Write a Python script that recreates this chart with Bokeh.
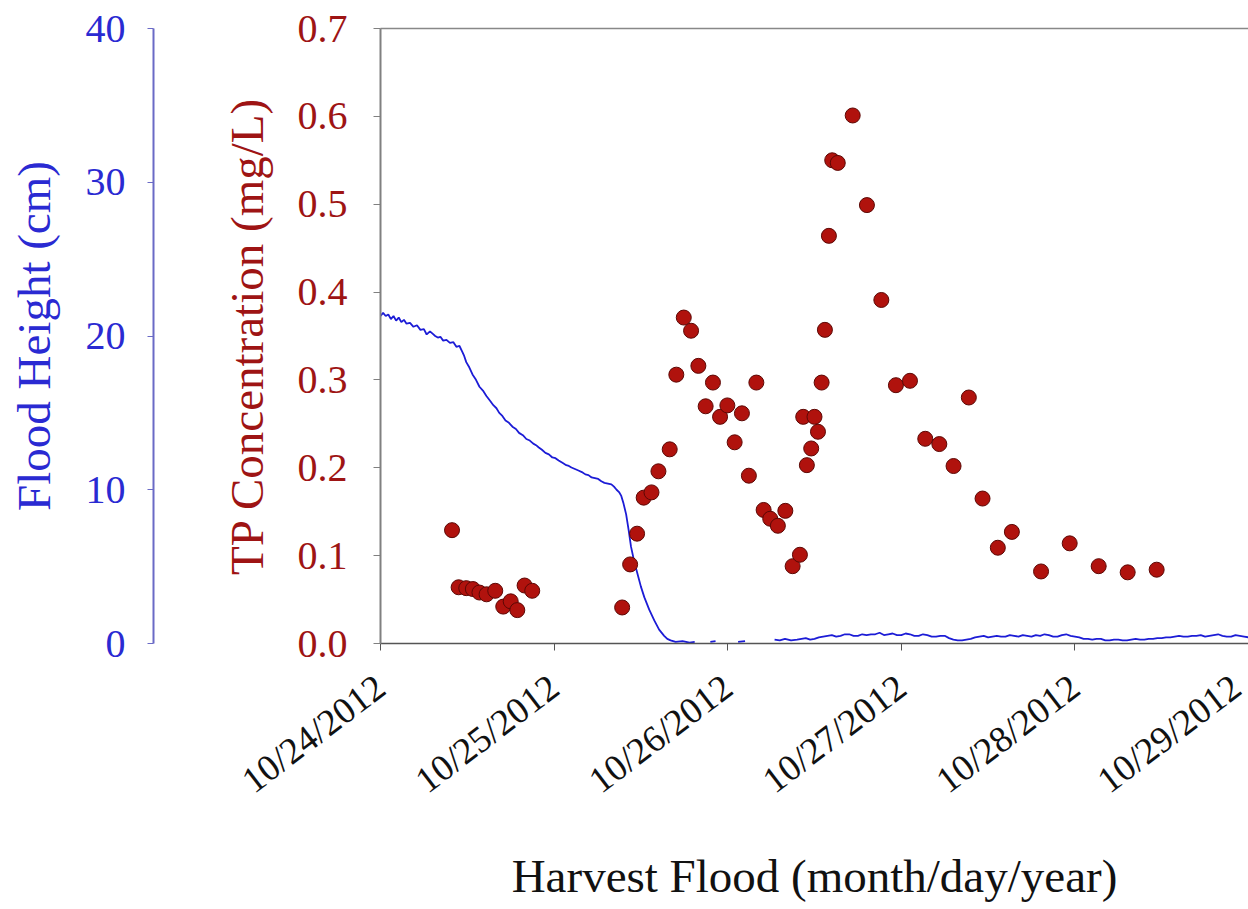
import numpy as np
from bokeh.plotting import figure
from bokeh.models import LinearAxis, Range1d, FixedTicker
from bokeh.embed import file_html
from bokeh.resources import INLINE

# ---- data (days since 10/24/2012 00:00) ----
tp_day = [0.412, 0.450, 0.494, 0.532, 0.570, 0.611, 0.661, 0.707, 0.750, 0.788, 0.830, 0.874,
          1.392, 1.438, 1.478, 1.516, 1.561, 1.601, 1.666, 1.704, 1.747, 1.789, 1.831, 1.873,
          1.915, 1.956, 1.998, 2.040, 2.082, 2.122, 2.165, 2.207, 2.245, 2.289, 2.332, 2.374,
          2.416, 2.435, 2.456, 2.481, 2.500, 2.520, 2.541, 2.560, 2.583, 2.602, 2.634, 2.720,
          2.802, 2.885, 2.969, 3.050, 3.138, 3.219, 3.301, 3.389, 3.468, 3.556, 3.637, 3.805,
          3.970, 4.137, 4.304, 4.471]
tp_conc = [0.129, 0.064, 0.063, 0.062, 0.058, 0.056, 0.060, 0.042, 0.048, 0.038, 0.066, 0.060,
           0.041, 0.090, 0.125, 0.166, 0.172, 0.196, 0.221, 0.306, 0.371, 0.356, 0.316, 0.270,
           0.297, 0.258, 0.271, 0.229, 0.262, 0.191, 0.297, 0.152, 0.142, 0.134, 0.151, 0.088,
           0.101, 0.258, 0.203, 0.222, 0.258, 0.241, 0.297, 0.357, 0.464, 0.550, 0.547, 0.601,
           0.499, 0.391, 0.294, 0.299, 0.233, 0.227, 0.202, 0.280, 0.165, 0.109, 0.127, 0.082,
           0.114, 0.088, 0.081, 0.084]

nan = np.nan
flood_day = [0.000, 0.015, 0.030, 0.045, 0.060, 0.075, 0.090, 0.105, 0.120, 0.135, 0.150, 0.170,
             0.190, 0.210, 0.230, 0.250, 0.266, 0.285, 0.300, 0.315, 0.330, 0.345, 0.361, 0.380,
             0.400, 0.420, 0.437, 0.455, 0.470, 0.482, 0.494, 0.512, 0.530, 0.550, 0.570, 0.590,
             0.610, 0.630, 0.650, 0.668, 0.684, 0.702, 0.720, 0.740, 0.760, 0.780, 0.798, 0.820,
             0.840, 0.860, 0.880, 0.896, 0.912, 0.930, 0.950, 0.970, 0.990, 1.008, 1.026, 1.048,
             1.070, 1.085, 1.100, 1.120, 1.140, 1.160, 1.180, 1.198, 1.216, 1.235, 1.254, 1.272,
             1.290, 1.310, 1.330, 1.345, 1.360, 1.374, 1.387, 1.400, 1.415, 1.429, 1.443, 1.462,
             1.481, 1.500, 1.520, 1.548, 1.577, 1.605, 1.634, 1.652, 1.671, 1.700,
             1.740, 1.780, 1.810, 1.811, 1.900, 1.930, 1.931, 2.060, 2.100, 2.101,
             2.270, 2.300, 2.330, 2.365, 2.400, 2.425, 2.450, 2.475, 2.500, 2.525, 2.550, 2.575,
             2.600, 2.625, 2.650, 2.675, 2.700, 2.725, 2.750, 2.775, 2.800, 2.825, 2.850, 2.875,
             2.900, 2.925, 2.950, 2.975, 3.000, 3.025, 3.050, 3.075, 3.100, 3.125, 3.150, 3.175,
             3.200, 3.225, 3.250, 3.275, 3.300, 3.325, 3.350, 3.375, 3.400, 3.425, 3.450, 3.475,
             3.500, 3.525, 3.550, 3.575, 3.600, 3.625, 3.650, 3.675, 3.700, 3.725, 3.750, 3.775,
             3.800, 3.825, 3.850, 3.875, 3.900, 3.925, 3.950, 3.975, 4.000, 4.025, 4.050, 4.075,
             4.100, 4.125, 4.150, 4.175, 4.200, 4.225, 4.250, 4.275, 4.300, 4.325, 4.350, 4.375,
             4.400, 4.425, 4.450, 4.475, 4.500, 4.525, 4.550, 4.575, 4.600, 4.625, 4.650, 4.675,
             4.700, 4.725, 4.750, 4.775, 4.800, 4.825, 4.850, 4.875, 4.900, 4.925, 4.950, 4.975,
             5.000]
flood_cm = [21.3, 21.5, 21.3, 21.4, 21.1, 21.3, 21.0, 21.2, 20.9, 21.05, 20.8, 20.85,
            20.6, 20.7, 20.4, 20.45, 20.1, 20.3, 20.15, 20.0, 19.9, 19.95, 19.7, 19.75,
            19.55, 19.6, 19.3, 19.35, 19.0, 18.7, 18.3, 17.95, 17.5, 17.15, 16.7, 16.45,
            16.1, 15.8, 15.5, 15.3, 15.0, 14.8, 14.5, 14.35, 14.1, 13.95, 13.7, 13.55,
            13.3, 13.2, 13.0, 12.9, 12.75, 12.6, 12.4, 12.3, 12.1, 12.05, 11.9, 11.75,
            11.6, 11.55, 11.45, 11.35, 11.25, 11.15, 11.0, 10.95, 10.8, 10.75, 10.7, 10.55,
            10.45, 10.4, 10.35, 10.2, 10.0, 9.85, 9.6, 9.1, 8.4, 7.4, 6.3, 5.3,
            4.5, 3.7, 3.0, 2.2, 1.5, 0.9, 0.5, 0.3, 0.2, 0.1,
            0.15, 0.05, 0.1, nan, 0.1, 0.15, nan, 0.1, 0.15, nan,
            0.25, 0.2, 0.3, 0.2, 0.25, 0.3, 0.35, 0.25, 0.3, 0.4, 0.45, 0.5,
            0.55, 0.45, 0.5, 0.6, 0.6, 0.5, 0.5, 0.6, 0.55, 0.6, 0.6, 0.7,
            0.55, 0.6, 0.65, 0.55, 0.55, 0.65, 0.6, 0.5, 0.5, 0.6, 0.55, 0.45,
            0.45, 0.5, 0.5, 0.35, 0.25, 0.2, 0.2, 0.25, 0.3, 0.4, 0.45, 0.5,
            0.4, 0.45, 0.5, 0.45, 0.45, 0.55, 0.5, 0.45, 0.55, 0.5, 0.45, 0.55,
            0.5, 0.6, 0.55, 0.45, 0.45, 0.55, 0.6, 0.5, 0.45, 0.4, 0.3, 0.3,
            0.25, 0.3, 0.3, 0.2, 0.2, 0.25, 0.25, 0.2, 0.2, 0.25, 0.3, 0.25,
            0.25, 0.3, 0.3, 0.35, 0.35, 0.4, 0.4, 0.45, 0.5, 0.45, 0.45, 0.5,
            0.5, 0.55, 0.45, 0.5, 0.55, 0.6, 0.5, 0.45, 0.45, 0.55, 0.5, 0.45,
            0.4]

x_ticks = [0, 1, 2, 3, 4, 5]
x_labels = ["10/24/2012", "10/25/2012", "10/26/2012", "10/27/2012", "10/28/2012", "10/29/2012"]
tp_ticks = [0.0, 0.1, 0.2, 0.3, 0.4, 0.5, 0.6, 0.7]
tp_labels = ["0.0", "0.1", "0.2", "0.3", "0.4", "0.5", "0.6", "0.7"]
fl_ticks = [0, 10, 20, 30, 40]
fl_labels = ["0", "10", "20", "30", "40"]

FONT = "Liberation Serif"
TICK_FS = "40px"
XTICK_FS = "37px"
TITLE_FS = "47px"
RED = "#9e1414"
BLUE = "#2a2ad2"

p = figure(frame_width=868, frame_height=615, output_backend="svg", toolbar_location=None,
           x_range=Range1d(0, 5), y_range=Range1d(0, 0.7),
           x_axis_location=None, y_axis_location=None,
           min_border_left=380, min_border_right=0, min_border_top=28, min_border_bottom=10)
p.extra_y_ranges = {"flood": Range1d(0, 40)}
p.outline_line_color = None
p.background_fill_color = "white"
p.border_fill_color = "white"
p.grid.visible = False
p.xgrid.visible = False
p.ygrid.visible = False

# bottom axis
xa = LinearAxis(ticker=FixedTicker(ticks=x_ticks),
                major_label_overrides={t: l for t, l in zip(x_ticks, x_labels)},
                axis_label="Harvest Flood (month/day/year)")
xa.major_label_orientation = 0.65
xa.axis_line_color = "#555555"
xa.axis_line_width = 1.5
xa.major_tick_line_color = "#555555"
xa.major_tick_out = 7
xa.major_tick_in = 0
xa.minor_tick_line_color = None
xa.major_label_text_font = FONT
xa.major_label_text_font_size = XTICK_FS
xa.major_label_text_color = "#111111"
xa.major_label_standoff = 32
xa.axis_label_text_font = FONT
xa.axis_label_text_font_size = TITLE_FS
xa.axis_label_text_font_style = "normal"
xa.axis_label_text_color = "#111111"
xa.axis_label_standoff = 30
p.add_layout(xa, "below")

# top line
ta = LinearAxis(ticker=FixedTicker(ticks=[]))
ta.axis_line_color = "#888888"
ta.axis_line_width = 1.5
ta.major_tick_out = 0
ta.major_tick_in = 0
ta.minor_tick_line_color = None
ta.major_label_standoff = 0
p.add_layout(ta, "above")

# red (TP) axis
ra = LinearAxis(ticker=FixedTicker(ticks=tp_ticks),
                major_label_overrides={t: l for t, l in zip(tp_ticks, tp_labels)},
                axis_label="TP Concentration (mg/L)")
ra.axis_line_color = "#808080"
ra.axis_line_width = 2
ra.major_tick_line_color = "#808080"
ra.major_tick_out = 7
ra.major_tick_in = 0
ra.minor_tick_line_color = None
ra.major_label_text_font = FONT
ra.major_label_text_font_size = TICK_FS
ra.major_label_text_color = RED
ra.major_label_standoff = 26
ra.axis_label_text_font = FONT
ra.axis_label_text_font_size = TITLE_FS
ra.axis_label_text_font_style = "normal"
ra.axis_label_text_color = RED
ra.axis_label_standoff = 22
p.add_layout(ra, "left")

# spacer between the two vertical axes
sa = LinearAxis(ticker=FixedTicker(ticks=[]), axis_label="x")
sa.axis_line_color = None
sa.major_tick_out = 0
sa.major_tick_in = 0
sa.minor_tick_line_color = None
sa.major_label_standoff = 0
sa.axis_label_text_color = None
sa.axis_label_text_font_size = "10px"
sa.axis_label_standoff = 50
p.add_layout(sa, "left")

# blue (flood height) axis
ba = LinearAxis(y_range_name="flood", ticker=FixedTicker(ticks=fl_ticks),
                major_label_overrides={t: l for t, l in zip(fl_ticks, fl_labels)},
                axis_label="Flood Height (cm)")
ba.axis_line_color = "#6a6ac6"
ba.axis_line_width = 2
ba.major_tick_line_color = "#6a6ac6"
ba.major_tick_out = 6
ba.major_tick_in = 0
ba.minor_tick_line_color = None
ba.major_label_text_font = FONT
ba.major_label_text_font_size = TICK_FS
ba.major_label_text_color = BLUE
ba.major_label_standoff = 22
ba.axis_label_text_font = FONT
ba.axis_label_text_font_size = TITLE_FS
ba.axis_label_text_font_style = "normal"
ba.axis_label_text_color = BLUE
ba.axis_label_standoff = 23
p.add_layout(ba, "left")

p.line(np.array(flood_day), np.array(flood_cm), y_range_name="flood",
       line_color="#1c1cd6", line_width=1.8)
p.scatter(tp_day, tp_conc, size=15, fill_color="#b0120d", line_color="#5c0805", line_width=1)

open("out.html", "w").write(file_html(p, INLINE))
